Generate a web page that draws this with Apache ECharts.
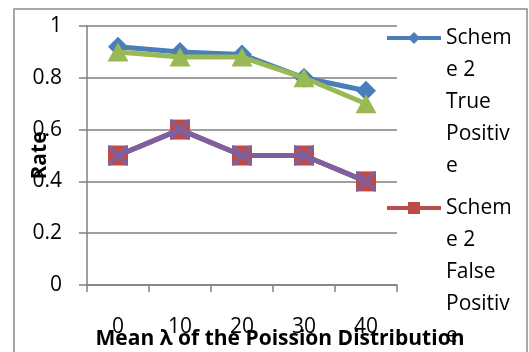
<!DOCTYPE html>
<html>
<head>
<meta charset="utf-8">
<script src="https://cdn.jsdelivr.net/npm/echarts@6/dist/echarts.min.js"></script>
<style>
html,body{margin:0;padding:0;background:#fff;}
#chart{width:529px;height:352px;}
</style>
</head>
<body>
<div id="chart"></div>
<script>
var categories = ['0', '10', '20', '30', '40'];
var scheme2TruePositive = [0.92, 0.90, 0.89, 0.80, 0.75];
var scheme2FalsePositive = [0.50, 0.60, 0.50, 0.50, 0.40];
var scheme1TruePositive = [0.90, 0.88, 0.88, 0.80, 0.70];
var scheme1FalsePositive = [0.50, 0.60, 0.50, 0.50, 0.40];
var seriesNames = ['Scheme 2 True Positive', 'Scheme 2 False Positive', 'Scheme 1 True Positive', 'Scheme 1 False Positive'];
var legendLabels = {
  'Scheme 2 True Positive': ['Schem', 'e 2', 'True', 'Positiv', 'e'],
  'Scheme 2 False Positive': ['Schem', 'e 2', 'False', 'Positiv', 'e']
};
var xAxisTitle = 'Mean \u03bb of the Poission Distribution';
var yAxisTitle = 'Rate';

var FONT = 'Open Sans';
var GRAY = '#808080';
var xPath = 'path://M0,0 L1.2,0 L10,8.8 L10,10 L8.8,10 L0,1.2 Z M8.8,0 L10,0 L10,1.2 L1.2,10 L0,10 L0,8.8 Z';

var chart = echarts.init(document.getElementById('chart'), null, {renderer: 'canvas'});

function legendFor(name, top) {
  return {
    data: [name],
    orient: 'vertical',
    left: 385,
    top: top,
    padding: 0,
    itemWidth: 54,
    itemHeight: 15,
    itemGap: 5,
    selectedMode: false,
    lineStyle: {width: 4},
    formatter: function (n) {
      var lines = legendLabels[n];
      // blank lines in front keep the first line level with the icon
      return '\n\n\n\n' + lines.join('\n');
    },
    textStyle: {
      fontFamily: FONT,
      fontSize: 21,
      color: '#000',
      lineHeight: 32
    }
  };
}

var option = {
  animation: false,
  backgroundColor: '#fff',
  textStyle: {fontFamily: FONT},
  grid: {left: 87, right: 132, top: 26, bottom: 67, containLabel: false, outerBoundsMode: 'none'},
  graphic: [{
    type: 'rect',
    shape: {x: 14, y: 9, width: 513, height: 360},
    style: {fill: 'none', stroke: '#8c8c8c', lineWidth: 1.5},
    silent: true,
    z: -1
  }],
  legend: [
    legendFor(seriesNames[0], 38 - 144),
    legendFor(seriesNames[1], 208 - 144)
  ],
  xAxis: {
    type: 'category',
    data: categories,
    boundaryGap: true,
    name: xAxisTitle,
    nameLocation: 'middle',
    nameGap: 44,
    nameMoveOverlap: false,
    nameTextStyle: {fontFamily: FONT, fontSize: 21, fontWeight: 'bold', color: '#000', padding: [0, 0, 0, 76]},
    axisLine: {show: true, lineStyle: {color: GRAY, width: 1.5}},
    axisTick: {show: true, alignWithLabel: false, length: 7, lineStyle: {color: GRAY, width: 1.5}},
    axisLabel: {fontFamily: FONT, fontSize: 21, color: '#000', margin: 32},
    splitLine: {show: false}
  },
  yAxis: {
    type: 'value',
    min: 0,
    max: 1,
    interval: 0.2,
    name: yAxisTitle,
    nameLocation: 'middle',
    nameGap: 36,
    nameRotate: 90,
    nameMoveOverlap: false,
    nameTextStyle: {fontFamily: FONT, fontSize: 21, fontWeight: 'bold', color: '#000'},
    axisLine: {show: true, lineStyle: {color: GRAY, width: 1.5}},
    axisTick: {show: true, length: 8, lineStyle: {color: GRAY, width: 1.5}},
    axisLabel: {fontFamily: FONT, fontSize: 21, color: '#000', margin: 25},
    splitLine: {show: true, lineStyle: {color: GRAY, width: 1.5}}
  },
  series: [
    {
      name: seriesNames[0], type: 'line', data: scheme2TruePositive,
      symbol: 'diamond', symbolSize: 20,
      lineStyle: {color: '#4a7ebb', width: 5},
      itemStyle: {color: '#4a7ebb'}, z: 2
    },
    {
      name: seriesNames[1], type: 'line', data: scheme2FalsePositive,
      symbol: 'rect', symbolSize: 20,
      lineStyle: {color: '#be4b48', width: 5},
      itemStyle: {color: '#be4b48'}, z: 2
    },
    {
      name: seriesNames[2], type: 'line', data: scheme1TruePositive,
      symbol: 'triangle', symbolSize: [21, 19],
      lineStyle: {color: '#98b954', width: 5},
      itemStyle: {color: '#98b954'}, z: 3
    },
    {
      name: seriesNames[3], type: 'line', data: scheme1FalsePositive,
      symbol: xPath, symbolSize: 20,
      lineStyle: {color: '#7d60a0', width: 5},
      itemStyle: {color: '#7d60a0'}, z: 4
    }
  ]
};
chart.setOption(option);
</script>
</body>
</html>
